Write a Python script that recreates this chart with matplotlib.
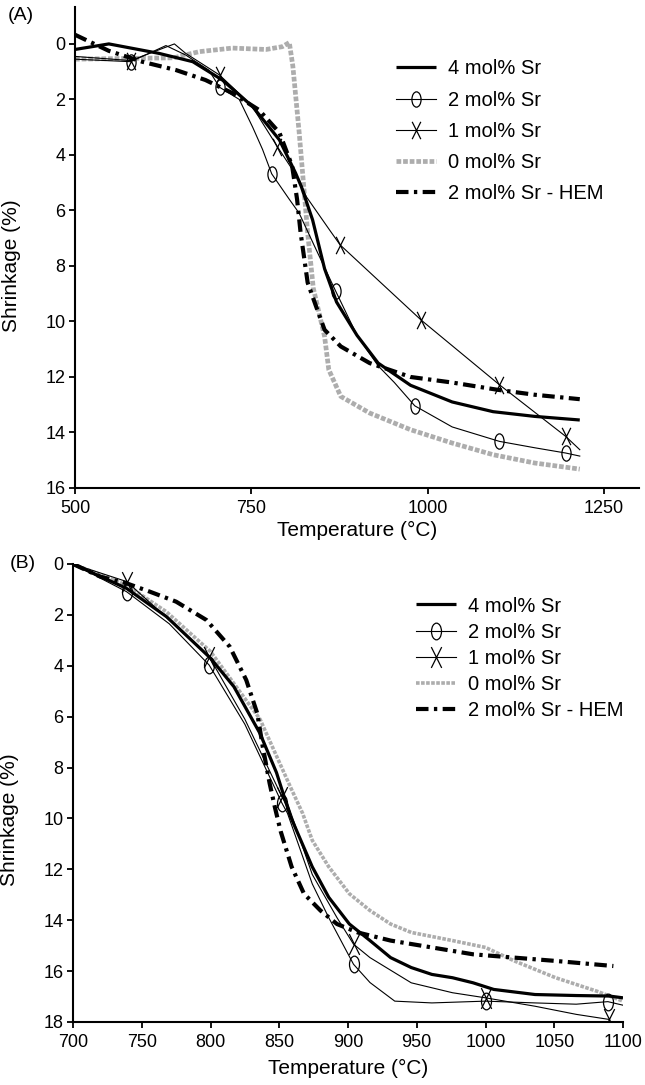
import matplotlib
matplotlib.use("Agg")
import matplotlib.pyplot as plt
from matplotlib.path import Path
from matplotlib.transforms import Affine2D

plt.rcParams['font.family'] = ['Liberation Sans', 'DejaVu Sans']

# ---- Panel A data (temperature °C, shrinkage %) ----
a_sr4_x = [500, 548, 619, 667, 709, 752, 790, 813, 821, 837, 854, 871, 900, 930, 976, 1035, 1093, 1152, 1216]
a_sr4_y = [0.2, 0.0, 0.34, 0.64, 1.3, 2.26, 3.46, 4.66, 5.14, 6.34, 8.1, 9.3, 10.5, 11.5, 12.3, 12.9, 13.25, 13.42, 13.55]

a_sr2_x = [500, 579, 629, 657, 690, 705, 733, 752, 766, 779, 804, 818, 840, 870, 900, 930, 953, 982, 1035, 1102, 1152, 1196, 1216]
a_sr2_y = [0.55, 0.64, 0.06, 0.4, 0.95, 1.56, 2.0, 3.0, 3.8, 4.68, 5.6, 6.1, 7.3, 8.92, 10.5, 11.6, 12.2, 13.04, 13.8, 14.32, 14.55, 14.74, 14.85]
a_sr2_marks = [579, 705, 779, 870, 982, 1102, 1196]

a_sr1_x = [500, 579, 641, 657, 705, 750, 787, 818, 828, 861, 876, 991, 1102, 1196, 1216]
a_sr1_y = [0.45, 0.6, 0.0, 0.34, 1.12, 2.2, 3.7, 4.9, 5.5, 6.7, 7.24, 9.95, 12.28, 14.14, 14.62]
a_sr1_marks = [579, 705, 787, 876, 991, 1102, 1196]

a_sr0_x = [500, 640, 676, 723, 771, 794, 804, 809, 818, 830, 838, 854, 860, 877, 918, 976, 1035, 1093, 1152, 1216]
a_sr0_y = [0.55, 0.5, 0.28, 0.15, 0.2, 0.1, -0.05, 0.8, 3.2, 6.8, 8.8, 10.54, 11.74, 12.7, 13.3, 13.9, 14.38, 14.8, 15.1, 15.32]

a_hem_x = [500, 548, 595, 643, 685, 723, 761, 790, 808, 815, 820, 830, 842, 854, 877, 918, 976, 1035, 1099, 1152, 1216]
a_hem_y = [-0.33, 0.25, 0.64, 0.94, 1.3, 1.77, 2.38, 3.2, 4.4, 5.6, 6.8, 8.6, 9.46, 10.3, 10.9, 11.5, 12.0, 12.2, 12.46, 12.64, 12.8]

# ---- Panel B data ----
b_sr4_x = [700, 739, 768, 800, 817, 836, 848, 858, 862, 874, 886, 901, 916, 931, 946, 961, 976, 991, 1006, 1036, 1066, 1090, 1100]
b_sr4_y = [0, 0.96, 2.07, 3.7, 4.82, 6.66, 8.2, 9.9, 10.4, 11.9, 13.1, 14.15, 14.8, 15.47, 15.86, 16.13, 16.26, 16.46, 16.72, 16.92, 16.96, 16.98, 17.05]

b_sr2_x = [700, 739, 770, 799, 825, 852, 856, 874, 886, 904, 916, 934, 961, 1000, 1036, 1066, 1089, 1100]
b_sr2_y = [0, 1.09, 2.35, 3.97, 6.3, 9.4, 9.8, 12.57, 13.9, 15.73, 16.45, 17.18, 17.25, 17.18, 17.25, 17.3, 17.2, 17.34]
b_sr2_marks = [739, 799, 852, 904, 1000, 1089]

b_sr1_x = [700, 739, 770, 799, 825, 852, 856, 874, 892, 904, 916, 946, 976, 1000, 1036, 1066, 1090]
b_sr1_y = [0, 0.69, 2.2, 3.64, 6.1, 9.15, 9.4, 12.2, 13.9, 14.94, 15.47, 16.46, 16.85, 17.05, 17.38, 17.7, 17.9]
b_sr1_marks = [739, 799, 852, 904, 1000, 1090]

b_sr0_x = [700, 739, 768, 800, 836, 858, 867, 874, 886, 901, 916, 931, 946, 976, 1000, 1021, 1051, 1081, 1100]
b_sr0_y = [0, 0.83, 1.88, 3.44, 6.1, 8.75, 9.8, 10.86, 11.9, 12.96, 13.62, 14.15, 14.48, 14.8, 15.07, 15.6, 16.26, 16.79, 17.18]

b_hem_x = [700, 720, 739, 756, 775, 797, 814, 826, 834, 838, 843, 847, 851, 859, 868, 880, 892, 907, 931, 961, 991, 1021, 1051, 1093]
b_hem_y = [0, 0.5, 0.76, 1.09, 1.48, 2.2, 3.25, 4.56, 5.87, 7.18, 8.62, 9.6, 10.5, 11.9, 12.96, 13.62, 14.15, 14.48, 14.8, 15.07, 15.34, 15.47, 15.6, 15.8]

labels = ["4 mol% Sr", "2 mol% Sr", "1 mol% Sr", "0 mol% Sr", "2 mol% Sr - HEM"]

# tall "0" and "X" shaped markers like in the original
ELLIPSE = Path.unit_circle().transformed(Affine2D().scale(0.6, 1.0))
CROSS = Path([(-0.5, -1), (0.5, 1), (-0.5, 1), (0.5, -1)],
             [Path.MOVETO, Path.LINETO, Path.MOVETO, Path.LINETO])

HEM_DASH = (0, (3, 1.3, 0.8, 1.3))


def marks_idx(xs, marks):
    return [i for i, x in enumerate(xs) if x in marks]


def draw_panel(ax, d, gray_lw, o_size, x_size):
    sr4x, sr4y, sr2x, sr2y, sr2m, sr1x, sr1y, sr1m, sr0x, sr0y, hemx, hemy = d
    h0, = ax.plot(sr0x, sr0y, color="0.68", lw=gray_lw, ls=(0, (1.0, 0.4)), zorder=1)
    h4, = ax.plot(sr4x, sr4y, color="black", lw=2.3, zorder=3, solid_capstyle="butt")
    h2, = ax.plot(sr2x, sr2y, color="black", lw=0.8, marker=ELLIPSE, ms=o_size,
                  mfc="none", mec="black", mew=0.9, markevery=marks_idx(sr2x, sr2m), zorder=2)
    h1, = ax.plot(sr1x, sr1y, color="black", lw=0.8, marker=CROSS, ms=x_size,
                  mfc="none", mec="black", mew=0.9, markevery=marks_idx(sr1x, sr1m), zorder=2)
    hh, = ax.plot(hemx, hemy, color="black", lw=3.0, ls=HEM_DASH, dash_capstyle="butt", zorder=4)
    return [h4, h2, h1, h0, hh]


def style_axes(ax):
    for s in ["top", "right"]:
        ax.spines[s].set_visible(False)
    for s in ["left", "bottom"]:
        ax.spines[s].set_linewidth(1.5)
    ax.tick_params(direction="out", length=4.5, width=1.3, labelsize=13)
    ax.tick_params(axis="y", pad=2.5)
    ax.tick_params(axis="x", pad=4)


fig = plt.figure(figsize=(6.45, 10.85), dpi=100)
W, H = 645, 1085

# panel A
axA = fig.add_axes([75 / W, 1 - 488 / H, (639 - 75) / W, (488 - 7) / H])
hA = draw_panel(axA, [a_sr4_x, a_sr4_y, a_sr2_x, a_sr2_y, a_sr2_marks, a_sr1_x, a_sr1_y, a_sr1_marks,
                      a_sr0_x, a_sr0_y, a_hem_x, a_hem_y], 3.4, 11, 12.5)
axA.set_xlim(500, 1300)
axA.set_ylim(16, -1.33)
axA.set_xticks([500, 750, 1000, 1250])
axA.set_yticks([0, 2, 4, 6, 8, 10, 12, 14, 16])
style_axes(axA)
axA.set_xlabel("Temperature (°C)", fontsize=15, labelpad=3)
axA.set_ylabel("Shrinkage (%)", fontsize=15)
axA.yaxis.set_label_coords(-54 / 564, 0.4615)
axA.legend(hA, labels, loc="upper left", bbox_to_anchor=(396 / W, 1 - 59.5 / H),
           bbox_transform=fig.transFigure, frameon=False, fontsize=14.5,
           borderpad=0, borderaxespad=0, labelspacing=0.6, handlelength=2.0, handletextpad=0.6)
fig.text(8 / W, 1 - 16 / H, "(A)", fontsize=14, va="center", ha="left")

# panel B
axB = fig.add_axes([73 / W, 1 - 1022 / H, (623 - 73) / W, (1022 - 564) / H])
hB = draw_panel(axB, [b_sr4_x, b_sr4_y, b_sr2_x, b_sr2_y, b_sr2_marks, b_sr1_x, b_sr1_y, b_sr1_marks,
                      b_sr0_x, b_sr0_y, b_hem_x, b_hem_y], 2.6, 12, 15)
axB.set_xlim(700, 1100)
axB.set_ylim(18, 0)
axB.set_xticks(range(700, 1101, 50))
axB.set_yticks(range(0, 19, 2))
style_axes(axB)
axB.set_xlabel("Temperature (°C)", fontsize=15, labelpad=6)
axB.set_ylabel("Shrinkage (%)", fontsize=15)
axB.yaxis.set_label_coords(-54 / 550, 0.441)
axB.legend(hB, labels, loc="upper left", bbox_to_anchor=(416 / W, 1 - 596.5 / H),
           bbox_transform=fig.transFigure, frameon=False, fontsize=14.5,
           borderpad=0, borderaxespad=0, labelspacing=0.36, handlelength=2.0, handletextpad=0.6)
fig.text(10 / W, 1 - 564 / H, "(B)", fontsize=14, va="center", ha="left")

fig.savefig("out.png", dpi=100)
